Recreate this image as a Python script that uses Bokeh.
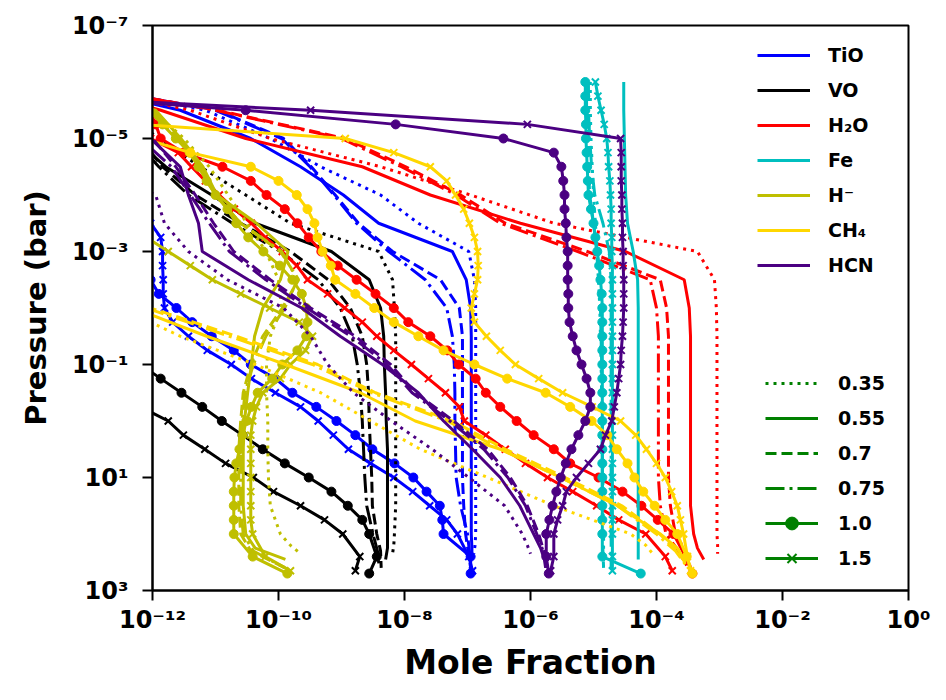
import numpy as np
from bokeh.plotting import figure
from bokeh.models import Range1d, FixedTicker, CustomJSTickFormatter, Legend, LegendItem
from bokeh.embed import file_html
from bokeh.resources import INLINE

# pressure grids (log10 bar)
LOG_P_GRID = [-6.0, -5.5, -5.0, -4.5, -4.0, -3.5, -3.0, -2.5, -2.0, -1.5,
              -1.0, -0.5, 0.0, 0.5, 1.0, 1.5, 2.0]
LOG_P_FINE = [-6.0, -5.75, -5.5, -5.25, -5.0, -4.75, -4.5, -4.25, -4.0, -3.75,
              -3.5, -3.25, -3.0, -2.75, -2.5, -2.25, -2.0, -1.75, -1.5, -1.25,
              -1.0, -0.75, -0.5, -0.25, 0.0, 0.25, 0.5, 0.75, 1.0, 1.25,
              1.5, 1.75, 2.0]
# deepest levels differ per parameter value
TAIL_035 = [2.2, 2.35]
TAIL_055 = [2.25, 2.45]
TAIL_070 = [2.3, 2.6]
TAIL_075 = [2.3, 2.6]
TAIL_100 = [2.4, 2.7]
TAIL_150 = [2.4, 2.65]

STYLE_LABELS = ["0.35", "0.55", "0.7", "0.75", "1.0", "1.5"]
SPECIES = ["TiO", "VO", "H\u2082O", "Fe", "H\u207b", "CH\u2084", "HCN"]

# log10 mole fraction (0.35-0.75 on LOG_P_GRID, 1.0 and 1.5 on LOG_P_FINE)
TIO_035 = [-13.5, -11.16, -10.13, -9.33, -8.38, -7.78, -6.98, -6.89, -6.87, -6.87, -6.87, -6.87, -6.87, -6.87, -6.87, -6.87, -6.87, -6.88, -6.9]
TIO_055 = [-13.5, -11.56, -10.44, -9.65, -8.97, -8.41, -7.24, -7.02, -6.95, -6.94, -6.94, -6.94, -6.94, -6.94, -6.94, -6.94, -6.94, -6.93, -6.93]
TIO_070 = [-13.5, -10.97, -9.92, -9.48, -9.1, -8.73, -8.19, -7.43, -7.13, -7.08, -7.08, -7.08, -7.08, -7.08, -7.08, -7.06, -7.03, -6.99, -6.95]
TIO_075 = [-13.5, -11.0, -9.95, -9.5, -9.12, -8.76, -8.25, -7.67, -7.33, -7.24, -7.21, -7.2, -7.2, -7.19, -7.18, -7.11, -7.0, -6.97, -6.95]
TIO_100 = [-13, -13, -13, -13, -13, -13, -13, -13, -13, -13, -13, -13, -12.3, -12.15, -12.03, -11.9, -11.62, -11.37, -11.06, -10.71,
           -10.44, -10.05, -9.78, -9.4, -9.08, -8.78, -8.51, -8.16, -7.86, -7.65, -7.44, -7.4, -7.38, -6.95, -6.95]
TIO_150 = [-13, -13, -13, -13, -13, -13, -13, -13, -13, -13, -12.03, -11.87, -11.84, -11.84, -11.83, -11.83, -11.81, -11.68, -11.43, -11.13,
           -10.75, -10.43, -10.05, -9.65, -9.37, -9.13, -8.89, -8.54, -8.17, -7.87, -7.6, -7.33, -7.16, -6.98, -6.92]

VO_035 = [-13, -12.4, -11.92, -11.24, -10.52, -9.81, -8.41, -8.19, -8.16, -8.14, -8.14, -8.14, -8.14, -8.14, -8.14, -8.14, -8.16, -8.17, -8.19]
VO_055 = [-13, -12.8, -12.3, -11.79, -11.06, -10.37, -9.16, -8.56, -8.38, -8.33, -8.32, -8.3, -8.29, -8.27, -8.27, -8.27, -8.27, -8.27, -8.3]
VO_070 = [-13, -12.8, -12.2, -11.84, -11.32, -10.6, -9.81, -9.21, -8.86, -8.67, -8.6, -8.57, -8.56, -8.54, -8.52, -8.51, -8.44, -8.38, -8.37]
VO_075 = [-13, -12.8, -12.3, -11.9, -11.43, -10.73, -9.97, -9.37, -9.02, -8.83, -8.75, -8.7, -8.67, -8.65, -8.63, -8.6, -8.5, -8.43, -8.4]
VO_100 = [-14, -14, -14, -14, -14, -14, -14, -14, -14, -14, -14, -14, -14, -14, -14, -14, -14, -14, -14, -14,
          -12.19, -11.87, -11.54, -11.21, -10.9, -10.57, -10.25, -9.9, -9.52, -9.16, -8.9, -8.67, -8.56, -8.44, -8.56]
VO_150 = [-14, -14, -14, -14, -14, -14, -14, -14, -14, -14, -14, -14, -14, -14, -14, -14, -14, -14, -14, -14,
          -14, -13.5, -12.7, -12.19, -11.75, -11.51, -11.17, -10.84, -10.4, -10.08, -9.65, -9.27, -8.98, -8.71, -8.78]

H2O_035 = [-13.5, -11.4, -10.13, -8.38, -6.95, -5.63, -3.35, -3.08, -3.05, -3.04, -3.04, -3.04, -3.04, -3.04, -3.04, -3.04, -3.04, -3.03, -3.03]
H2O_055 = [-13.5, -11.87, -10.52, -8.67, -7.59, -6.16, -4.49, -3.56, -3.48, -3.46, -3.46, -3.46, -3.46, -3.46, -3.46, -3.46, -3.41, -3.35, -3.25]
H2O_070 = [-13.5, -10.97, -8.94, -7.98, -7.11, -6.4, -5.1, -3.94, -3.84, -3.81, -3.81, -3.81, -3.81, -3.81, -3.81, -3.78, -3.7, -3.54, -3.46]
H2O_075 = [-13.5, -11.0, -9.0, -8.05, -7.18, -6.48, -5.25, -4.1, -4.0, -3.97, -3.97, -3.97, -3.97, -3.97, -3.97, -3.94, -3.85, -3.65, -3.5]
H2O_100 = [-13.5, -12.6, -12.05, -11.95, -11.87, -11.51, -10.89, -10.44, -10.19, -9.9, -9.7, -9.52, -9.32, -9.06, -8.76, -8.46, -8.17, -7.94, -7.59, -7.32,
           -7.14, -6.87, -6.71, -6.48, -6.22, -5.95, -5.63, -5.37, -4.92, -4.54, -4.24, -3.98, -3.73, -3.54, -3.43]
H2O_150 = [-13.5, -13, -12.6, -12.3, -12.03, -11.59, -11.38, -11.16, -10.94, -10.7, -10.43, -10.21, -9.94, -9.71, -9.54, -9.22, -8.95, -8.67, -8.44, -8.17,
           -7.89, -7.62, -7.35, -7.13, -7.05, -6.71, -6.4, -6.08, -5.73, -5.33, -4.95, -4.6, -4.17, -3.86, -3.75]

FE_035 = [-5.05, -5.05, -5.04, -5.02, -5.0, -4.97, -4.94, -4.92, -4.9, -4.89, -4.88, -4.87, -4.86, -4.86, -4.85, -4.85, -4.84, -4.84, -4.84]
FE_055 = [-4.52, -4.52, -4.51, -4.5, -4.49, -4.46, -4.37, -4.3, -4.29, -4.29, -4.29, -4.29, -4.29, -4.29, -4.29, -4.29, -4.29, -4.29, -4.29]
FE_070 = [-5.11, -5.11, -5.1, -5.08, -5.06, -5.0, -4.95, -4.92, -4.89, -4.88, -4.87, -4.87, -4.86, -4.86, -4.86, -4.86, -4.86, -4.85, -4.84]
FE_075 = [-5.08, -5.08, -5.06, -5.03, -4.98, -4.85, -4.75, -4.72, -4.72, -4.72, -4.72, -4.72, -4.72, -4.72, -4.72, -4.72, -4.72, -4.72, -4.72]
FE_100 = [-5.13, -5.13, -5.13, -5.12, -5.12, -5.11, -5.1, -5.09, -5.08, -5.04, -5.0, -4.97, -4.94, -4.91, -4.89, -4.87, -4.86, -4.86, -4.86, -4.86,
          -4.86, -4.86, -4.86, -4.86, -4.86, -4.86, -4.86, -4.86, -4.86, -4.86, -4.86, -4.86, -4.86, -4.86, -4.25]
FE_150 = [-4.97, -4.93, -4.88, -4.83, -4.79, -4.77, -4.76, -4.74, -4.73, -4.72, -4.72, -4.71, -4.71, -4.7, -4.7, -4.7, -4.7, -4.7, -4.7, -4.7,
          -4.7, -4.7, -4.7, -4.7, -4.7, -4.7, -4.7, -4.7, -4.7, -4.7, -4.7, -4.7, -4.7, -4.7, -4.7]

HM_035 = [-13.5, -12.0, -11.5, -11.1, -10.8, -10.5, -10.2, -10.0, -9.95, -10.13, -10.19, -10.19, -10.17, -10.17, -10.16, -10.13, -9.97, -9.81, -9.65]
HM_055 = [-13.5, -11.95, -11.55, -11.2, -10.98, -10.35, -9.85, -9.97, -10.25, -10.38, -10.43, -10.49, -10.54, -10.56, -10.56, -10.56, -10.52, -10.37, -9.89]
HM_070 = [-13.5, -12.0, -11.6, -11.25, -11.0, -10.6, -9.97, -9.68, -9.94, -10.25, -10.44, -10.56, -10.6, -10.63, -10.63, -10.63, -10.6, -10.44, -9.89]
HM_075 = [-13.5, -12.0, -11.6, -11.25, -11.0, -10.6, -9.95, -9.7, -9.9, -10.2, -10.4, -10.53, -10.58, -10.6, -10.6, -10.6, -10.56, -10.4, -9.9]
HM_100 = [-13.5, -12.6, -12.06, -11.84, -11.63, -11.41, -11.27, -11.14, -11.0, -10.81, -10.67, -10.48, -10.24, -9.98, -9.78, -9.63, -9.56, -9.54, -9.56, -9.7,
          -9.94, -10.1, -10.33, -10.43, -10.51, -10.57, -10.62, -10.67, -10.7, -10.71, -10.71, -10.71, -10.71, -10.41, -9.86]
HM_150 = [-13, -13, -13, -13, -13, -13, -13, -13, -13, -12.8, -12.4, -12.1, -11.75, -11.4, -11.05, -10.6, -10.14, -9.67, -9.46, -9.57,
          -9.81, -9.97, -10.25, -10.35, -10.41, -10.44, -10.44, -10.44, -10.44, -10.44, -10.44, -10.44, -10.41, -10.21, -9.81]

CH4_035 = [-14, -14, -14, -14, -14, -14, -14, -14, -12.5, -11.56, -10.37, -9.33, -8.54, -7.75, -6.68, -5.63, -4.41, -4.17, -4.06]
CH4_055 = [-14, -14, -14, -14, -14, -14, -14, -14, -12.3, -11.14, -9.89, -8.7, -7.83, -6.48, -5.52, -4.62, -3.94, -3.67, -3.56]
CH4_070 = [-14, -14, -14, -14, -14, -14, -14, -14, -12.03, -10.67, -9.38, -8.46, -7.24, -6.4, -5.45, -4.55, -3.95, -3.67, -3.49]
CH4_075 = [-14, -14, -14, -14, -14, -14, -14, -14, -12.1, -10.78, -9.46, -8.52, -7.32, -6.47, -5.52, -4.62, -4.0, -3.7, -3.5]
CH4_100 = [-14, -13.6, -13.2, -12.7, -12.15, -11.4, -10.44, -10.0, -9.71, -9.54, -9.43, -9.38, -9.3, -9.17, -9.1, -8.78, -8.48, -8.17, -7.78, -7.38,
           -6.89, -6.37, -5.76, -5.37, -5.03, -4.78, -4.63, -4.46, -4.35, -4.21, -4.03, -3.86, -3.67, -3.52, -3.43]
CH4_150 = [-16, -15, -14, -12.2, -8.94, -8.17, -7.59, -7.33, -7.19, -7.06, -6.97, -6.89, -6.84, -6.83, -6.84, -6.89, -6.94, -6.89, -6.7, -6.48,
           -6.24, -5.87, -5.49, -5.02, -4.57, -4.33, -4.16, -4.0, -3.86, -3.76, -3.67, -3.62, -3.57, -3.51, -3.46]

HCN_035 = [-14, -14, -14, -12.8, -11.95, -11.81, -11.43, -10.81, -9.92, -9.49, -9.22, -8.81, -8.21, -7.56, -6.98, -6.41, -6.13, -6.05, -6.0]
HCN_055 = [-14, -14, -12.03, -11.56, -11.43, -11.27, -11.21, -10.48, -9.63, -9.02, -8.35, -7.78, -7.38, -6.92, -6.48, -6.17, -5.95, -5.84, -5.78]
HCN_070 = [-14, -14, -12.0, -11.63, -11.32, -11.03, -10.71, -10.13, -9.49, -8.78, -8.22, -7.83, -7.22, -6.68, -6.32, -6.05, -5.87, -5.79, -5.75]
HCN_075 = [-14, -14, -12.2, -11.7, -11.4, -11.1, -10.78, -10.2, -9.55, -8.85, -8.28, -7.88, -7.28, -6.74, -6.36, -6.08, -5.9, -5.8, -5.76]
HCN_100 = [-20, -13.5, -10.52, -8.14, -6.43, -5.63, -5.51, -5.48, -5.46, -5.46, -5.44, -5.43, -5.41, -5.41, -5.41, -5.4, -5.4, -5.38, -5.33, -5.27,
           -5.19, -5.11, -5.05, -5.05, -5.13, -5.24, -5.35, -5.44, -5.52, -5.59, -5.65, -5.7, -5.75, -5.75, -5.71]
HCN_150 = [-20, -14, -9.49, -6.05, -4.57, -4.56, -4.56, -4.56, -4.55, -4.55, -4.54, -4.54, -4.53, -4.53, -4.52, -4.52, -4.52, -4.53, -4.54, -4.56,
           -4.57, -4.6, -4.63, -4.67, -4.71, -4.81, -4.89, -5.08, -5.27, -5.43, -5.49, -5.57, -5.63, -5.63, -5.68]

X_TICKS = [1e-12, 1e-10, 1e-8, 1e-6, 1e-4, 1e-2, 1e0]
Y_TICKS = [1e-7, 1e-5, 1e-3, 1e-1, 1e1, 1e3]

COLORS = ["#0000ff", "#000000", "#ff0000", "#00bfbf", "#bfbf00", "#ffd700", "#4b0082"]
LEGEND_GREEN = "#008000"

PROFILES = [
    [TIO_035, TIO_055, TIO_070, TIO_075, TIO_100, TIO_150],
    [VO_035, VO_055, VO_070, VO_075, VO_100, VO_150],
    [H2O_035, H2O_055, H2O_070, H2O_075, H2O_100, H2O_150],
    [FE_035, FE_055, FE_070, FE_075, FE_100, FE_150],
    [HM_035, HM_055, HM_070, HM_075, HM_100, HM_150],
    [CH4_035, CH4_055, CH4_070, CH4_075, CH4_100, CH4_150],
    [HCN_035, HCN_055, HCN_070, HCN_075, HCN_100, HCN_150],
]
GRIDS = [LOG_P_GRID, LOG_P_GRID, LOG_P_GRID, LOG_P_GRID, LOG_P_FINE, LOG_P_FINE]
TAILS = [TAIL_035, TAIL_055, TAIL_070, TAIL_075, TAIL_100, TAIL_150]
DASHES = ["3 5", "solid", "11 5", "19 5 3 5", "solid", "solid"]
MARKERS = [None, None, None, None, "circle", "x"]

p = figure(x_axis_type="log", y_axis_type="log",
           x_range=Range1d(1e-12, 1e0), y_range=Range1d(1e3, 1e-7),
           frame_width=756, frame_height=565,
           min_border_left=152, min_border_right=30,
           min_border_top=25, min_border_bottom=100,
           output_backend="svg", toolbar_location=None,
           background_fill_color="white", border_fill_color="white")

p.xgrid.visible = False
p.ygrid.visible = False
p.outline_line_color = "black"
p.outline_line_width = 2

fmt = CustomJSTickFormatter(code="""
const e = Math.round(Math.log10(tick));
const sup = {'-':'\u207b','0':'\u2070','1':'\u00b9','2':'\u00b2','3':'\u00b3','4':'\u2074','5':'\u2075','6':'\u2076','7':'\u2077','8':'\u2078','9':'\u2079'};
return '10' + String(e).split('').map(c => sup[c]).join('');
""")

for ax, ticks in ((p.xaxis, X_TICKS), (p.yaxis, Y_TICKS)):
    ax.ticker = FixedTicker(ticks=ticks)
    ax.formatter = fmt
    ax.axis_line_width = 2
    ax.major_tick_line_width = 2
    ax.major_tick_out = 10
    ax.major_tick_in = 0
    ax.minor_tick_line_color = None
    ax.major_label_text_font = "DejaVu Sans"
    ax.major_label_text_font_style = "bold"
    ax.major_label_text_font_size = "24px"
    ax.major_label_text_color = "black"
    ax.axis_label_text_font = "DejaVu Sans"
    ax.axis_label_text_font_style = "bold"
    ax.axis_label_text_color = "black"

p.xaxis.axis_label = "Mole Fraction"
p.yaxis.axis_label = "Pressure (bar)"
p.xaxis.axis_label_text_font_size = "33px"
p.yaxis.axis_label_text_font_size = "29px"
p.xaxis.major_label_standoff = 5
p.yaxis.major_label_standoff = 14
p.xaxis.axis_label_standoff = 6
p.yaxis.axis_label_standoff = 16

for color, curves in zip(COLORS, PROFILES):
    for vals, grid, tail, dash, marker in zip(curves, GRIDS, TAILS, DASHES, MARKERS):
        xs = [10.0 ** v for v in vals]
        ys = [10.0 ** v for v in (grid + tail)]
        p.line(xs, ys, line_color=color, line_width=3, line_dash=dash)
        if marker == "circle":
            p.scatter(xs, ys, marker="circle", size=9, fill_color=color, line_color=color)
        elif marker == "x":
            p.scatter(xs, ys, marker="x", size=10, line_color=color, line_width=2)

# legend proxies sit outside the visible range
HIDDEN_X = [1e-30, 1e-29]
HIDDEN_Y = [1e10, 1e10]

sp_items = []
for name, color in zip(SPECIES, COLORS):
    r = p.line(HIDDEN_X, HIDDEN_Y, line_color=color, line_width=3)
    sp_items.append(LegendItem(label=name, renderers=[r]))

st_items = []
for lab, dash, marker in zip(STYLE_LABELS, DASHES, MARKERS):
    rs = [p.line(HIDDEN_X, HIDDEN_Y, line_color=LEGEND_GREEN, line_width=3, line_dash=dash)]
    if marker == "circle":
        rs.append(p.scatter(HIDDEN_X, HIDDEN_Y, marker="circle", size=12,
                            fill_color=LEGEND_GREEN, line_color=LEGEND_GREEN))
    elif marker == "x":
        rs.append(p.scatter(HIDDEN_X, HIDDEN_Y, marker="x", size=12,
                            line_color=LEGEND_GREEN, line_width=2))
    st_items.append(LegendItem(label=lab, renderers=rs))

def style_legend(lg, gh, sp):
    lg.border_line_color = None
    lg.background_fill_alpha = 0
    lg.padding = 0
    lg.margin = 0
    lg.spacing = sp
    lg.glyph_width = 53
    lg.glyph_height = gh
    lg.label_height = gh
    lg.label_standoff = 18
    lg.label_text_font = "DejaVu Sans"
    lg.label_text_font_style = "bold"
    lg.label_text_font_size = "19px"
    lg.label_text_color = "black"

leg1 = Legend(items=sp_items, location=(605, 312))
style_legend(leg1, 26, 9)
leg2 = Legend(items=st_items, location=(613, 16))
style_legend(leg2, 32, 3)
leg2.label_standoff = 20
p.add_layout(leg1)
p.add_layout(leg2)

open("out.html", "w").write(file_html(p, INLINE))
